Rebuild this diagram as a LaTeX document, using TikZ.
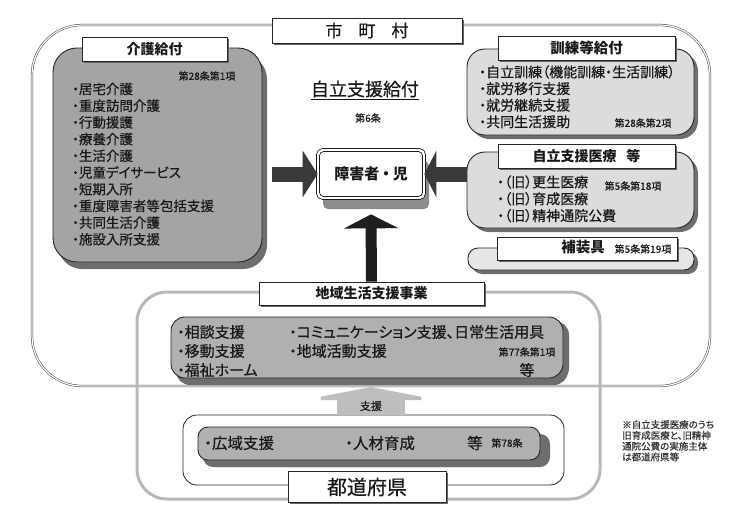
\documentclass[tikz,border=0pt]{standalone}
\usepackage{fontspec}
\setmainfont{Noto Sans CJK JP}[RawFeature={+palt}, UprightFeatures={FakeBold=0.5}]
\usetikzlibrary{arrows.meta,shadows}
\definecolor{darkfill}{HTML}{A4A4A4}
\definecolor{midfill}{HTML}{B0B0B0}
\definecolor{lightfill}{HTML}{DCDCDC}
\definecolor{palefill}{HTML}{E6E6E6}
\definecolor{shadowgray}{HTML}{6E6E6E}
\definecolor{arrowgray}{HTML}{3A3A3A}
\definecolor{framegray}{HTML}{B8B8B8}
\definecolor{shiengray}{HTML}{BEBEBE}
\newcommand{\sz}[1]{\fontsize{#1}{#1}\selectfont}

\begin{document}
\begin{tikzpicture}[
    x=1pt, y=-1pt,
    every node/.style = {inner sep=0pt, text=black!90},
    titlebox/.style = {draw=black!85, fill=white, line width=0.8pt,
        drop shadow={shadow xshift=1.5pt, shadow yshift=-1.5pt, fill=black!60, opacity=1}},
    darkbox/.style = {draw=black!85, line width=0.9pt, fill=darkfill,
        drop shadow={shadow xshift=5pt, shadow yshift=-7pt, fill=shadowgray, opacity=1}},
    lightbox/.style = {draw=black!85, line width=0.9pt, fill=lightfill,
        drop shadow={shadow xshift=4pt, shadow yshift=-4pt, fill=shadowgray, opacity=1}},
    entry/.style = {anchor=west, font=\sz{#1}},
    entry/.default = 14,
    article/.style = {font=\sz{10}},
    bigarrow/.style = {draw=arrowgray, line width=15pt, -{Triangle[width=46pt,length=15pt]}}
    ]
\useasboundingbox (0,0) rectangle (740,520);

\node[draw=black!75, line width=0.5pt, double=white, double distance=1.2pt, rounded corners=50pt,
    minimum width=678pt, minimum height=361pt] (shi) at (371,205.5) {};
\node[draw=framegray, line width=3pt, rounded corners=30pt,
    minimum width=463pt, minimum height=207pt] (chiikiframe) at (368.5,395.5) {};
\node[titlebox, minimum width=190pt, minimum height=25pt, font=\sz{17}] (shititle) at (367,30.5)
    {市\hspace{16pt}町\hspace{16pt}村};

\node[darkbox, rounded corners=24pt, minimum width=209pt, minimum height=214pt] (kaigo) at (157.5,155) {};
\node[titlebox, minimum width=145pt, minimum height=24pt, font=\bfseries\sz{14}] (kaigotitle) at (154.5,49) {介護給付};
\node[article] (kaigoart) at (207,76) {第28条第1項};
\foreach \t [count=\i from 0] in {居宅介護, 重度訪問介護, 行動援護, 療養介護, 生活介護,
    児童デイサービス, 短期入所, 重度障害者等包括支援, 共同生活介護, 施設入所支援}
  \node[entry=13.5] (kaigo-\i) at (72,{89+16.7*\i}) {・\t};

\node[font=\sz{18}] (kyufu) at (365,90) {\underline{自立支援給付}};
\node[article] (kyufuart) at (368,118) {第6条};

\node[lightbox, rounded corners=18pt, minimum width=227pt, minimum height=86pt] (kunren) at (580.5,92) {};
\node[titlebox, minimum width=177pt, minimum height=24pt, font=\bfseries\sz{14.5}] (kunrentitle) at (586.5,48) {訓練等給付};
\foreach \t [count=\i from 0] in {自立訓練（機能訓練・生活訓練）, 就労移行支援, 就労継続支援, 共同生活援助}
  \node[entry] (kunren-\i) at (479,{72+16.6*\i}) {・\t};
\node[article] (kunrenart) at (643,123) {第28条第2項};

\node[lightbox, rounded corners=18pt, minimum width=227pt, minimum height=76pt] (iryo) at (580.5,190) {};
\node[titlebox, minimum width=177pt, minimum height=24pt, font=\bfseries\sz{14}] (iryotitle) at (586.5,156)
    {自立支援医療\hspace{10pt}等};
\foreach \t [count=\i from 0] in {（旧）更生医療, （旧）育成医療, （旧）精神通院公費}
  \node[entry] (iryo-\i) at (497,{182+16.8*\i}) {・\t};
\node[article] (iryoart) at (633,186) {第5条第18項};

\node[lightbox, fill=palefill, rounded corners=10pt, minimum width=226pt, minimum height=22pt] (hosogu) at (581,259) {};
\node[titlebox, minimum width=180pt, minimum height=23pt] (hosogutitle) at (587,248.5) {};
\node[font=\bfseries\sz{14.5}] (hosogutext) at (583,247.5) {補装具};
\node[article] (hosoguart) at (643,249) {第5条第19項};

\node[draw=black, line width=0.7pt, double=white, double distance=2.4pt, fill=white, rounded corners=5pt,
    minimum width=106pt, minimum height=48pt, font=\bfseries\sz{15},
    drop shadow={shadow xshift=5pt, shadow yshift=-11pt, fill=black!45, opacity=1}] (hito) at (371,174)
    {障害者\hspace{3pt}・\hspace{3pt}児};

\coordinate (kaigoout) at (272,174);
\draw[bigarrow] (kaigoout) -- (hito.west);
\draw[bigarrow, -{Triangle[width=46pt,length=12pt]}] (iryo.west |- hito.east) -- (hito.east);

\node[titlebox, minimum width=225pt, minimum height=23pt, font=\bfseries\sz{14}] (chiikititle) at (371.5,293.5) {地域生活支援事業};
\draw[draw=black!88, line width=11pt, -{Triangle[width=54pt,length=14pt]}] (chiikititle.north) -- ([yshift=-16pt]hito.south);

\node[darkbox, fill=midfill, rounded corners=14pt, minimum width=392pt, minimum height=61pt,
    drop shadow={shadow xshift=6pt, shadow yshift=-4pt, fill=shadowgray, opacity=1}] (chiiki) at (367,347.5) {};
\foreach \t [count=\i from 0] in {相談支援, 移動支援, 福祉ホーム}
  \node[entry=15] (chiiki-a\i) at (177,{332+19*\i}) {・\t};
\foreach \t [count=\i from 0] in {コミュニケーション支援、日常生活用具, 地域活動支援}
  \node[entry=15] (chiiki-b\i) at (289,{332+19*\i}) {・\t};
\node[article] (chiikiart) at (527,352) {第77条第1項};
\node[font=\sz{15}] (chiikito) at (527,370) {等};

\node[draw=black!85, line width=0.8pt, fill=white, rounded corners=14pt,
    minimum width=381pt, minimum height=70pt] (todo) at (373.5,450) {};
\coordinate (shientip) at (371,387);
\draw[draw=shiengray, line width=68pt, -{Triangle[width=134pt,length=13pt]}] (todo.north -| shientip) -- (shientip);
\node[font=\sz{11}] (shien) at (371,406) {支援};

\node[darkbox, fill=midfill, rounded corners=10pt, minimum width=342pt, minimum height=33pt,
    drop shadow={shadow xshift=10pt, shadow yshift=-7pt, fill=shadowgray, opacity=1}] (kouiki) at (369,443.5) {};
\node[entry=15.5] (kouiki-0) at (204,443) {・広域支援};
\node[entry=15.5] (kouiki-1) at (345,443) {・人材育成};
\node[font=\sz{15.5}] (kouikito) at (475,443) {等};
\node[article] (kouikiart) at (507,443) {第78条};
\node[titlebox, minimum width=158pt, minimum height=31pt, font=\sz{20}] (todotitle) at (367,487) {都道府県};

\node[anchor=north west, align=left, font=\fontsize{9.5}{10.8}\selectfont, text=black!80] (note) at (622,420)
    {※自立支援医療のうち\\旧育成医療と、旧精神\\通院公費の実施主体\\は都道府県等};
\end{tikzpicture}
\end{document}
